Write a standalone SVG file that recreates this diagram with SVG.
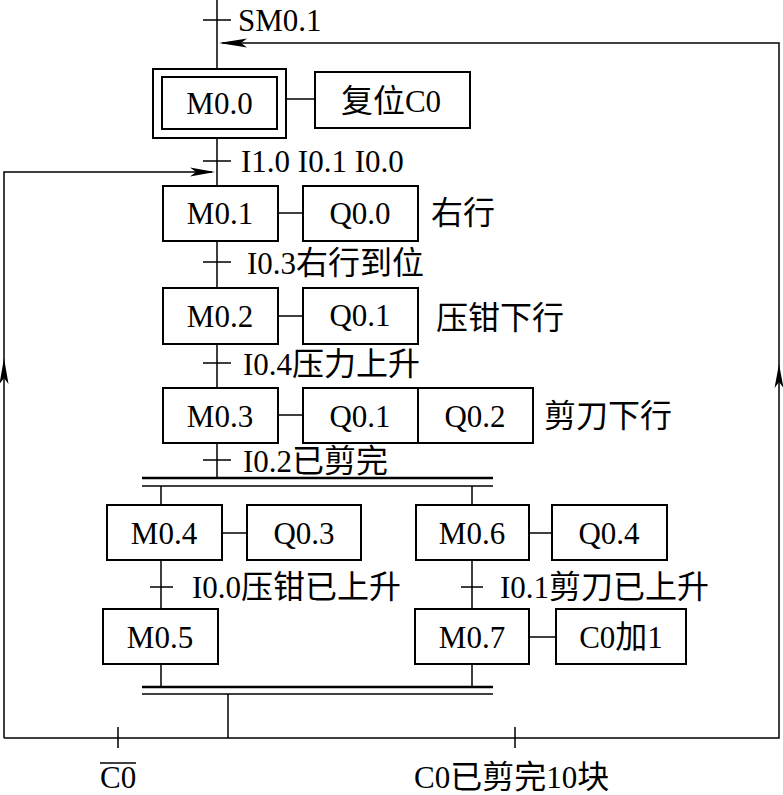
<svg xmlns="http://www.w3.org/2000/svg" width="783" height="795" viewBox="0 0 783 795">
<style>
  .box { fill: #fff; stroke: #000; stroke-width: 2; }
  .ln { fill: none; stroke: #000; stroke-width: 1.5; }
  .bar { fill: none; stroke: #000; stroke-width: 2.5; }
  .ah { fill: #000; stroke: none; }
  text { font-family: "Liberation Serif", "Noto Sans CJK SC", serif; font-size: 31px; fill: #000; }
  .k { font-size: 32px; }
  .c { text-anchor: middle; }
</style>
<rect width="783" height="795" fill="#fff"/>
<g id="connectors">
  <path class="ln" d="M217,0 V69 M217,138 V186 M217,241 V288 M217,344 V388 M217,443 V478"/>
  <path class="ln" d="M203,20 H231 M203,161 H231 M203,262 H231 M203,363 H231 M203,460 H231"/>
  <path class="bar" d="M142,478 H493"/>
  <path class="ln" d="M142,486 H493"/>
  <path class="ln" d="M161,486 V505 M472,486 V505"/>
  <path class="ln" d="M161,560 V609 M472,560 V609"/>
  <path class="ln" d="M150,587 H173 M461,587 H483"/>
  <path class="ln" d="M161,664 V687 M472,664 V687"/>
  <path class="bar" d="M142,687 H493"/>
  <path class="ln" d="M142,694 H493"/>
  <path class="ln" d="M228,694 V738"/>
  <path class="ln" d="M4,738 H779 V43 H222"/>
  <path class="ln" d="M4,738 V172 H212"/>
  <path class="ln" d="M118,727 V748 M515,727 V748"/>
  <path class="ln" d="M286,99 H315 M278,213 H303 M278,316 H303 M278,415 H303 M222,533 H247 M529,533 H552 M529,637 H556"/>
  <path class="ah" d="M219,43 L247,38.5 L241,43 L247,47.5 Z"/>
  <path class="ah" d="M215,172 L190,167.5 L196,172 L190,176.5 Z"/>
  <path class="ah" d="M4,358 L-0.5,384 L4,378 L8.5,384 Z"/>
  <path class="ah" d="M779,364 L774.5,388 L779,382 L783.5,388 Z"/>
</g>
<g id="M0.0">
  <rect class="box" x="153" y="69" width="133" height="69"/>
  <rect class="box" x="162" y="77" width="115" height="52"/>
  <text class="c" x="219.5" y="114">M0.0</text>
</g>
<g id="reset">
  <rect class="box" x="315" y="72" width="155" height="56"/>
  <text class="c" x="391" y="112"><tspan class="k">复位</tspan>C0</text>
</g>
<g id="M0.1">
  <rect class="box" x="163" y="186" width="115" height="55"/>
  <text class="c" x="220" y="224">M0.1</text>
</g>
<g id="Q0.0">
  <rect class="box" x="303" y="186" width="115" height="55"/>
  <text class="c" x="360" y="224">Q0.0</text>
  <text class="k" x="431" y="224">右行</text>
</g>
<g id="M0.2">
  <rect class="box" x="163" y="288" width="115" height="56"/>
  <text class="c" x="220" y="327">M0.2</text>
</g>
<g id="Q0.1a">
  <rect class="box" x="303" y="288" width="115" height="56"/>
  <text class="c" x="360" y="326">Q0.1</text>
  <text class="k" x="436" y="329">压钳下行</text>
</g>
<g id="M0.3">
  <rect class="box" x="163" y="388" width="115" height="55"/>
  <text class="c" x="220" y="427">M0.3</text>
</g>
<g id="Q0.1b">
  <rect class="box" x="303" y="388" width="115" height="55"/>
  <text class="c" x="360" y="427">Q0.1</text>
</g>
<g id="Q0.2">
  <rect class="box" x="418" y="388" width="115" height="55"/>
  <text class="c" x="475" y="427">Q0.2</text>
  <text class="k" x="544" y="427">剪刀下行</text>
</g>
<g id="M0.4">
  <rect class="box" x="107" y="505" width="115" height="55"/>
  <text class="c" x="164" y="544">M0.4</text>
</g>
<g id="Q0.3">
  <rect class="box" x="247" y="505" width="114" height="55"/>
  <text class="c" x="304" y="544">Q0.3</text>
</g>
<g id="M0.6">
  <rect class="box" x="416" y="505" width="113" height="55"/>
  <text class="c" x="472" y="544">M0.6</text>
</g>
<g id="Q0.4">
  <rect class="box" x="552" y="505" width="115" height="55"/>
  <text class="c" x="609" y="544">Q0.4</text>
</g>
<g id="M0.5">
  <rect class="box" x="103" y="609" width="115" height="55"/>
  <text class="c" x="160" y="648">M0.5</text>
</g>
<g id="M0.7">
  <rect class="box" x="415" y="609" width="114" height="55"/>
  <text class="c" x="472" y="648">M0.7</text>
</g>
<g id="C0add">
  <rect class="box" x="556" y="609" width="130" height="55"/>
  <text class="c" x="621" y="648">C0<tspan class="k">加</tspan>1</text>
</g>
<g id="labels">
  <text x="238" y="31">SM0.1</text>
  <text x="241" y="172">I1.0 I0.1 I0.0</text>
  <text x="247" y="274">I0.3<tspan class="k">右行到位</tspan></text>
  <text x="243" y="375">I0.4<tspan class="k">压力上升</tspan></text>
  <text x="243" y="472">I0.2<tspan class="k">已剪完</tspan></text>
  <text x="192" y="598">I0.0<tspan class="k">压钳已上升</tspan></text>
  <text x="500" y="598">I0.1<tspan class="k">剪刀已上升</tspan></text>
  <text x="100" y="788">C0</text>
  <path class="ln" d="M100,763 H136"/>
  <text x="414" y="788">C0<tspan class="k">已剪完</tspan>10<tspan class="k">块</tspan></text>
</g>
</svg>
